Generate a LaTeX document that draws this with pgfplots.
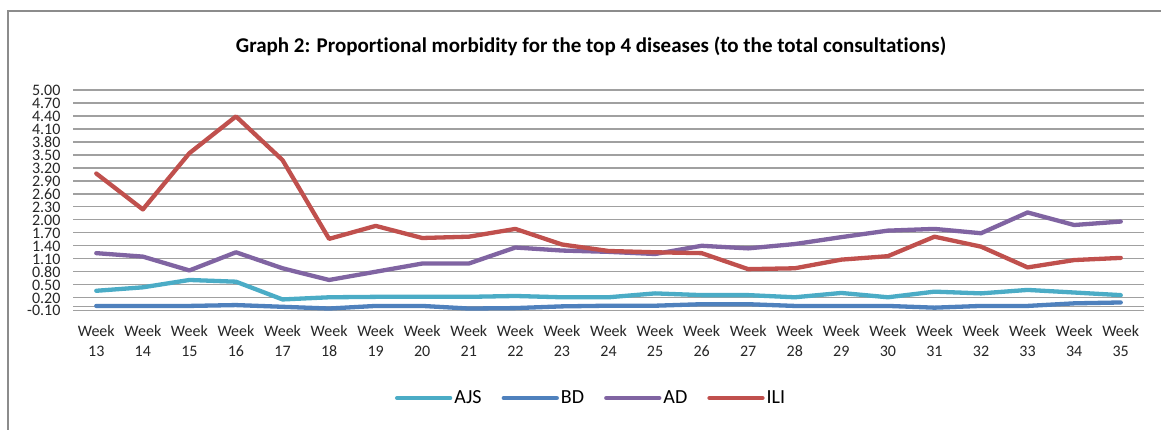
\documentclass[border=0pt]{standalone}
\usepackage{pgfplots}
\pgfplotsset{compat=1.18}
\usepackage{fontspec}
\setmainfont{Carlito}[Ligatures=NoCommon]
\definecolor{cAJS}{HTML}{4BACC6}
\definecolor{cBD}{HTML}{4F81BD}
\definecolor{cAD}{HTML}{8064A2}
\definecolor{cILI}{HTML}{C0504D}
\definecolor{gridc}{HTML}{A0A0A0}
\definecolor{framec}{HTML}{8C8C8C}
\begin{document}
\begin{tikzpicture}[x=1pt,y=1pt]
\useasboundingbox (0,0) rectangle (1161,430);
\fill[white] (0,0) rectangle (1161,430);
\draw[framec,line width=2pt] (8,-20) -- (8,419) -- (1180,419);
\node[font=\fontsize{21}{23}\selectfont\bfseries] at (591,384) {Graph 2: Proportional morbidity for the top 4 diseases (to the total consultations)};
\begin{axis}[
  at={(73pt,119.3pt)}, anchor=south west,
  scale only axis, width=1071pt, height=220.7pt,
  xmin=-0.5, xmax=22.5, ymin=-0.1, ymax=5.0,
  xtick={0,...,22},
  xticklabels={Week\\13,Week\\14,Week\\15,Week\\16,Week\\17,Week\\18,Week\\19,Week\\20,Week\\21,Week\\22,Week\\23,Week\\24,Week\\25,Week\\26,Week\\27,Week\\28,Week\\29,Week\\30,Week\\31,Week\\32,Week\\33,Week\\34,Week\\35},
  xticklabel style={align=center, font=\fontsize{16}{20.5}\selectfont, color=black!85, yshift=-11pt, inner xsep=0pt},
  ytick={-0.1,0.2,0.5,0.8,1.1,1.4,1.7,2.0,2.3,2.6,2.9,3.2,3.5,3.8,4.1,4.4,4.7,5.0},
  yticklabels={-0.10,0.20,0.50,0.80,1.10,1.40,1.70,2.00,2.30,2.60,2.90,3.20,3.50,3.80,4.10,4.40,4.70,5.00},
  yticklabel style={font=\fontsize{16}{16}\selectfont, color=black!85, xshift=-9pt, text height=10pt, text depth=0pt, inner ysep=0pt, anchor=east, yshift=-0.3pt},
  major tick length=0pt,
  ymajorgrids, grid style={gridc, line width=1.3pt},
  extra y ticks={0}, extra y tick labels={}, extra y tick style={grid style={gridc,line width=1.3pt}},
  axis line style={draw=none},
  every axis plot/.append style={line width=4.3pt, line join=round, line cap=round, mark=none},
  legend columns=4,
  legend style={at={(0.4837,-0.3956)}, anchor=center, draw=none, fill=none,
    font=\fontsize{20}{20}\selectfont, /tikz/every even column/.append style={column sep=18pt},
    /tikz/every odd column/.append style={column sep=0pt}},
  legend cell align=left,
  legend image code/.code={\draw[#1, line width=4.3pt, line cap=round] (0pt,0pt) -- (53pt,0pt);},
]
\addplot[cAJS] coordinates {(0,0.36)(1,0.44)(2,0.61)(3,0.57)(4,0.16)(5,0.21)(6,0.22)(7,0.22)(8,0.22)(9,0.24)(10,0.21)(11,0.21)(12,0.30)(13,0.26)(14,0.26)(15,0.21)(16,0.31)(17,0.21)(18,0.34)(19,0.30)(20,0.38)(21,0.32)(22,0.26)};
\addlegendentry{AJS}
\addplot[cBD] coordinates {(0,0.01)(1,0.01)(2,0.01)(3,0.03)(4,-0.01)(5,-0.05)(6,0.01)(7,0.01)(8,-0.05)(9,-0.04)(10,0.00)(11,0.015)(12,0.015)(13,0.05)(14,0.05)(15,0.01)(16,0.01)(17,0.01)(18,-0.03)(19,0.01)(20,0.01)(21,0.07)(22,0.09)};
\addlegendentry{BD}
\addplot[cAD] coordinates {(0,1.23)(1,1.15)(2,0.83)(3,1.25)(4,0.88)(5,0.61)(6,0.80)(7,0.99)(8,0.99)(9,1.36)(10,1.29)(11,1.26)(12,1.21)(13,1.40)(14,1.34)(15,1.44)(16,1.60)(17,1.75)(18,1.79)(19,1.69)(20,2.17)(21,1.88)(22,1.96)};
\addlegendentry{AD}
\addplot[cILI] coordinates {(0,3.07)(1,2.24)(2,3.54)(3,4.39)(4,3.38)(5,1.56)(6,1.86)(7,1.58)(8,1.61)(9,1.79)(10,1.43)(11,1.28)(12,1.25)(13,1.23)(14,0.86)(15,0.88)(16,1.08)(17,1.16)(18,1.61)(19,1.38)(20,0.90)(21,1.07)(22,1.12)};
\addlegendentry{ILI}
\end{axis}
\end{tikzpicture}
\end{document}
